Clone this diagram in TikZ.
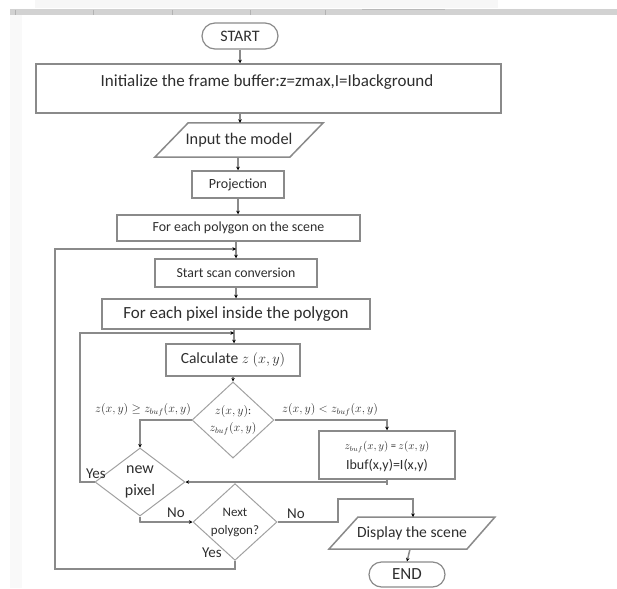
\documentclass[tikz,border=0pt]{standalone}
\usepackage{fontspec}
\setmainfont{Carlito}
\usetikzlibrary{shapes.geometric,shapes.misc,arrows.meta}
\definecolor{lin}{HTML}{8A8A8A}
\definecolor{txt}{HTML}{2E2E2E}
\tikzset{
  boxnode/.style={draw=lin,line width=1.5pt,fill=white,inner sep=0pt,text=txt},
  termnode/.style={draw=lin,line width=1.2pt,rounded rectangle,inner sep=0pt,text=txt},
  decnode/.style={draw=lin!80,line width=1pt,diamond,inner sep=0pt,text=txt,align=center},
  conn/.style={draw=lin,line width=1.5pt},
  arr/.style={conn,-{Stealth[length=3.5pt,width=3.5pt,black]}},
  lbl/.style={text=txt,inner sep=0pt},
  iolbl/.style={inner sep=0pt,text=txt}
}
\begin{document}
\begin{tikzpicture}[x=1pt,y=-1pt]
\useasboundingbox (0,0) rectangle (617,588);
% screenshot chrome
\fill[gray!6] (35,0) rectangle (498,8);
\fill[gray!35] (10,9) rectangle (617,15);
\fill[gray!5] (10,15) rectangle (22,588);
\foreach \t in {15,93,172,250,325} \draw[gray!60,line width=0.8pt] (\t,10) -- (\t,15);
\draw[gray!55,line width=1pt] (362,10) -- (445,10);

% nodes
\node[termnode,minimum width=76pt,minimum height=26pt,font=\fontsize{16}{18}\selectfont] (start) at (240,36) {START};
\node[boxnode,minimum width=465pt,minimum height=49pt] (init) at (268.5,88.5) {};
\node[lbl,font=\fontsize{17}{19}\selectfont] (inittxt) at (267,82) {Initialize the frame buffer:z=zmax,I=Ibackground};

\draw[lin,line width=1.5pt,fill=white] (188,123) -- (323,123) -- (290,157) -- (155,157) -- cycle;
\node[iolbl,minimum height=34pt,font=\fontsize{16.3}{18}\selectfont] (input) at (239,140) {Input the model};

\node[boxnode,minimum width=92pt,minimum height=27pt,font=\fontsize{14}{16}\selectfont] (proj) at (238,184.5) {Projection};
\node[boxnode,minimum width=243pt,minimum height=26pt,font=\fontsize{13.9}{16}\selectfont] (poly) at (238.5,228) {For each polygon on the scene};
\node[boxnode,minimum width=162pt,minimum height=28pt,font=\fontsize{13.8}{16}\selectfont] (scan) at (236,273) {Start scan conversion};
\node[boxnode,minimum width=268pt,minimum height=30pt,font=\fontsize{17}{19}\selectfont] (pixel) at (236,314) {For each pixel inside the polygon};
\node[boxnode,minimum width=134pt,minimum height=32pt,font=\fontsize{15.5}{18}\selectfont] (calc) at (233,360) {Calculate $z$ $(x,y)$};

\node[decnode,minimum width=82pt,minimum height=64pt,font=\fontsize{11.5}{18}\selectfont] (cmp) at (233,420) {$z(x,y)$:\\[-1pt]$z_{buf}(x,y)$};
\node[boxnode,minimum width=136pt,minimum height=48pt] (upd) at (387,455) {};
\node[lbl,font=\fontsize{10.5}{12}\selectfont] (updA) at (387,447) {$z_{buf}(x,y)$ = $z(x,y)$};
\node[lbl,font=\fontsize{14}{16}\selectfont] (updB) at (387,466) {Ibuf(x,y)=I(x,y)};
\node[decnode,minimum width=90pt,minimum height=68pt,font=\fontsize{16}{22}\selectfont] (newpix) at (140,482) {new\\pixel};
\node[decnode,minimum width=84pt,minimum height=58pt,font=\fontsize{13}{18}\selectfont] (nextpoly) at (235,522) {Next\\polygon?};

\draw[lin,line width=1.5pt,fill=white] (358,517) -- (495,517) -- (467,549) -- (329,549) -- cycle;
\node[iolbl,minimum height=32pt,font=\fontsize{15.6}{18}\selectfont] (disp) at (412,533) {Display the scene};
\node[termnode,minimum width=76pt,minimum height=25pt,font=\fontsize{17}{19}\selectfont] (end) at (407,574.5) {END};

% junction coordinates
\coordinate (j1) at (236,249);
\coordinate (j2) at (234,333);

% connectors
\draw[arr] (start.south) -- (start.south |- init.north);
\draw[arr] (240,113) -- (input.north -| 240,0);
\draw[arr] (input.south -| proj.north) -- (proj.north);
\draw[arr] (proj.south) -- (proj.south |- poly.north);
\draw[conn] (poly.south -| j1) -- (j1);
\draw[arr] (j1) -- (scan.north);
\draw[arr] (scan.south) -- (pixel.north);
\draw[conn] (pixel.south -| j2) -- (j2);
\draw[arr] (j2) -- (j2 |- calc.north);
\draw[arr] (calc.south) -- (cmp.north);
\draw[arr] (cmp.west) -| (newpix.north);
\draw[arr] (cmp.east) -| (upd.north);
\draw[arr] (upd.south) -- ++(0,5) |- (newpix.east);
\draw[arr] (newpix.west) -- (80,482) |- (j2);
\draw[arr] (newpix.south) -- ++(0,6) |- (nextpoly.west);
\draw[arr] (nextpoly.south) -- ++(0,8) -| (55,249) -- (j1);
\draw[arr] (nextpoly.east) -- (338,522) |- (413,499) -- (413,517);
\draw[arr] (disp.south -| 410,0) -- (end.north);

% labels
\node[lbl,font=\fontsize{12}{14}\selectfont] (l1) at (143,410) {$z(x,y)\geq z_{buf}(x,y)$};
\node[lbl,font=\fontsize{12}{14}\selectfont] (l2) at (330,410) {$z(x,y) < z_{buf}(x,y)$};
\node[lbl,font=\fontsize{15}{17}\selectfont] (l3) at (96,474) {Yes};
\node[lbl,font=\fontsize{15}{17}\selectfont] (l4) at (176,513) {No};
\node[lbl,font=\fontsize{15}{17}\selectfont] (l5) at (212,553) {Yes};
\node[lbl,font=\fontsize{15}{17}\selectfont] (l6) at (296,514) {No};
\end{tikzpicture}
\end{document}
